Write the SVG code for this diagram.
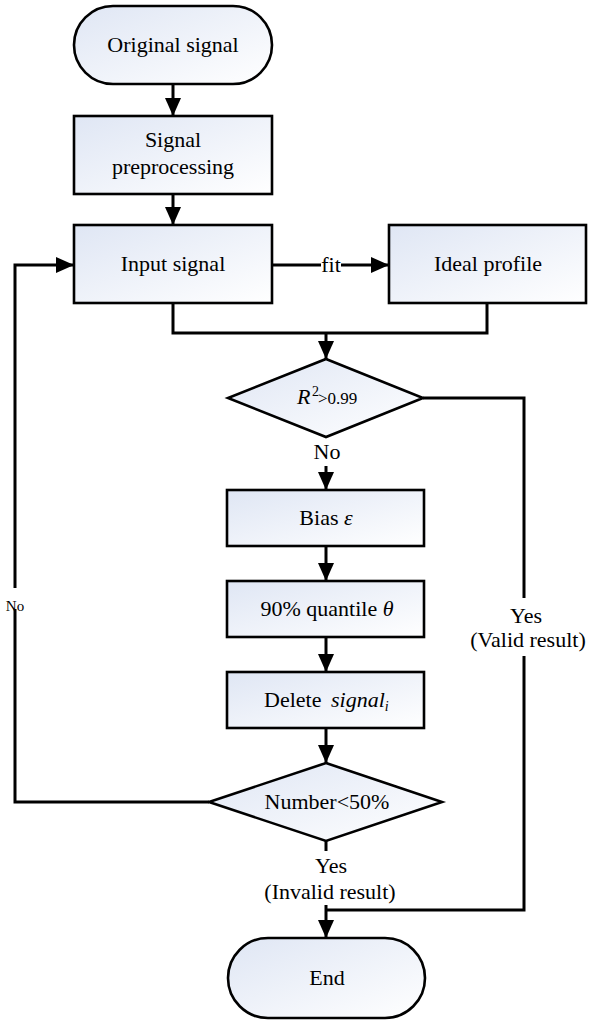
<svg xmlns="http://www.w3.org/2000/svg" width="593" height="1024" viewBox="0 0 593 1024">
  <defs>
    <linearGradient id="fill" x1="0" y1="0" x2="1" y2="1">
      <stop offset="0" stop-color="#dfe6f4"/>
      <stop offset="1" stop-color="#ffffff"/>
    </linearGradient>
    <marker id="arr" markerUnits="userSpaceOnUse" markerWidth="18" markerHeight="16" refX="18" refY="8" orient="auto">
      <path d="M0,0 L18,8 L0,16 z" fill="#000"/>
    </marker>
  </defs>
  <style>
    .shape { fill: url(#fill); stroke: #000; stroke-width: 2.6; }
    .line { fill: none; stroke: #000; stroke-width: 3; }
    .arrow { fill: none; stroke: #000; stroke-width: 3; marker-end: url(#arr); }
    text { font-family: "Liberation Serif", "Times New Roman", serif; font-size: 22px; fill: #000; }
    .c { text-anchor: middle; }
    .it { font-style: italic; }
  </style>
  <rect width="593" height="1024" fill="#fff"/>

  <g id="connectors">
    <path class="arrow" d="M173,84 V116"/>
    <path class="arrow" d="M173,194 V225"/>
    <path class="line" d="M272,265 H321"/>
    <path class="arrow" d="M341,265 H389"/>
    <path class="line" d="M173,303 V333 H487 V303"/>
    <path class="arrow" d="M326,333 V359"/>
    <path class="arrow" d="M326,466 V490"/>
    <path class="arrow" d="M326,546 V581"/>
    <path class="arrow" d="M326,637 V672"/>
    <path class="arrow" d="M326,728 V763"/>
    <path class="line" d="M209,802 H15 V609"/>
    <path class="arrow" d="M15,588 V265 H74"/>
    <path class="line" d="M423,398 H524 V598"/>
    <path class="line" d="M524,656 V910 H326"/>
    <path class="line" d="M326,841 V851"/>
    <path class="arrow" d="M326,905 V938"/>
    <text class="c" x="331" y="272">fit</text>
    <text class="c" x="15" y="611" style="font-size:15px">No</text>
    <text class="c" x="327" y="459">No</text>
    <text class="c" x="526" y="623">Yes</text>
    <text class="c" x="528" y="647">(Valid result)</text>
    <text class="c" x="331" y="873">Yes</text>
    <text class="c" x="330" y="899">(Invalid result)</text>
  </g>

  <g id="original-signal">
    <rect class="shape" x="74" y="6" width="198" height="78" rx="39" ry="39"/>
    <text class="c" x="173" y="52">Original signal</text>
  </g>

  <g id="signal-preprocessing">
    <rect class="shape" x="74" y="116" width="198" height="78"/>
    <text class="c" x="173" y="147">Signal</text>
    <text class="c" x="173" y="174">preprocessing</text>
  </g>

  <g id="input-signal">
    <rect class="shape" x="74" y="225" width="198" height="78"/>
    <text class="c" x="173" y="271">Input signal</text>
  </g>

  <g id="ideal-profile">
    <rect class="shape" x="389" y="225" width="197" height="78"/>
    <text class="c" x="488" y="271">Ideal profile</text>
  </g>

  <g id="r2-decision">
    <polygon class="shape" points="326,359 423,398 326,437 228,398"/>
    <text x="297" y="404" class="it">R</text>
    <text x="312" y="396" style="font-size:14px">2</text>
    <text x="318" y="404" style="font-size:17px">&gt;0.99</text>
  </g>

  <g id="bias">
    <rect class="shape" x="227" y="490" width="197" height="56"/>
    <text class="c" x="326" y="525">Bias <tspan class="it">ε</tspan></text>
  </g>

  <g id="quantile">
    <rect class="shape" x="227" y="581" width="197" height="56"/>
    <text class="c" x="327" y="616">90% quantile <tspan class="it">θ</tspan></text>
  </g>

  <g id="delete-signal">
    <rect class="shape" x="227" y="672" width="197" height="56"/>
    <text x="264" y="707">Delete</text>
    <text x="331" y="707" class="it">signal<tspan style="font-size:14px" dy="4">i</tspan></text>
  </g>

  <g id="number-decision">
    <polygon class="shape" points="326,763 442,802 326,841 209,802"/>
    <text class="c" x="327" y="809">Number&lt;50%</text>
  </g>

  <g id="end">
    <rect class="shape" x="228" y="938" width="197" height="80" rx="40" ry="40"/>
    <text class="c" x="327" y="985">End</text>
  </g>
</svg>
